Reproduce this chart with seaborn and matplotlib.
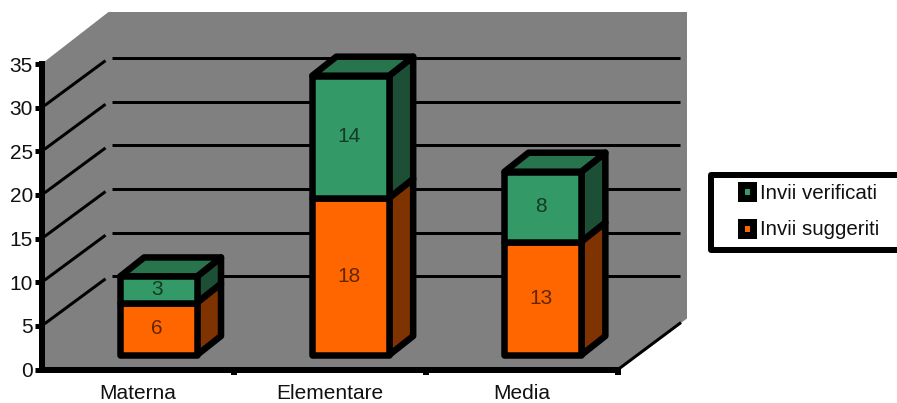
import matplotlib
matplotlib.use("Agg")
import matplotlib.pyplot as plt
import seaborn as sns
from matplotlib.lines import Line2D
from matplotlib.patches import Patch, Polygon, Rectangle
from matplotlib.transforms import Affine2D, IdentityTransform

categories = ["Materna", "Elementare", "Media"]
suggested = [6, 18, 13]
verified = [3, 14, 8]
series_names = ["Invii verificati", "Invii suggeriti"]
y_ticks = [0, 5, 10, 15, 20, 25, 30, 35]

WIDTH, HEIGHT = 897, 403
PX = 72 / 100  # points per pixel at the saved resolution

ORANGE, ORANGE_SIDE = "#FF6600", "#7F3300"
GREEN, GREEN_SIDE, GREEN_TOP = "#339966", "#1D4F36", "#27744D"
WALL = "#808080"
EDGE = 6.5 * PX

sns.set_theme(style="white")
plt.rcParams["font.family"] = ["Liberation Sans", "DejaVu Sans"]
plt.rcParams["text.color"] = "#111111"

fig = plt.figure(figsize=(WIDTH / 100, HEIGHT / 100), dpi=100)
ax = fig.add_axes([41.5 / WIDTH, (HEIGHT - 369.5) / HEIGHT, 576.5 / WIDTH, 305.5 / HEIGHT])
ax.patch.set_visible(False)

# Front-face bars: stacked through seaborn, then pushed into the box by a display offset.
bar_style = dict(color=ORANGE, saturation=1, width=0.4, edgecolor="black",
                 linewidth=EDGE, zorder=6, ax=ax)
sns.barplot(x=categories, y=suggested, **bar_style)
bar_style["color"] = GREEN
sns.barplot(x=categories, y=verified, bottom=suggested, **bar_style)
ax.set_xlim(-0.5, 2.5)
ax.set_ylim(0, 35)
ax.set_xlabel("")
ax.set_ylabel("")

BAR_DX, BAR_DY = 21, 14.5
DEPTH_DX, DEPTH_DY = 24, 19
bar_shift = ax.transData + Affine2D().translate(BAR_DX, BAR_DY)
label_shift = ax.transData + Affine2D().translate(BAR_DX - 1.5, BAR_DY)
identity = IdentityTransform()


def disp(x, y):
    return ax.transData.transform((x, y))


def img(x, y):
    """Pixel position measured from the top-left corner, in display coordinates."""
    return (x, HEIGHT - y)


# Box walls and floor, as one grey silhouette.
x0, y0 = disp(-0.5, 0)
x1, y1 = disp(2.5, 35)
wall = [(x0, y0), (x0, y1), (x0 + 67, y1 + 52), (x1 + 69, y1 + 52), (x1 + 69, y0 + 51), (x1, y0)]
ax.add_patch(Polygon(wall, closed=True, facecolor=WALL, edgecolor="none",
                     transform=identity, clip_on=False, zorder=0))

# Gridlines on the back wall with their diagonals on the side wall.
grid_kw = dict(color="black", lw=3 * PX, transform=identity, clip_on=False,
               zorder=1, solid_capstyle="butt")
for value in y_ticks[1:-1]:
    _, yv = disp(-0.5, value)
    ax.add_line(Line2D([x0 + 70, x1 + 62], [yv + 49.5] * 2, **grid_kw))
    ax.add_line(Line2D([x0 + 3, x0 + 64], [yv + 2, yv + 47], **grid_kw))
ax.add_line(Line2D([x1, x1 + 63], [y0, y0 + 47], **grid_kw))

# Right and top faces for every stacked segment.
face_kw = dict(closed=True, edgecolor="black", linewidth=EDGE, joinstyle="round",
               transform=identity, clip_on=False, zorder=5)
for i in range(len(categories)):
    stack = [(0, suggested[i], ORANGE_SIDE), (suggested[i], suggested[i] + verified[i], GREEN_SIDE)]
    right = i + 0.2
    left = i - 0.2
    for low, high, shade in stack:
        xr, yl = disp(right, low)
        _, yh = disp(right, high)
        xr += BAR_DX
        yl += BAR_DY
        yh += BAR_DY
        ax.add_patch(Polygon([(xr, yl), (xr + DEPTH_DX, yl + DEPTH_DY),
                              (xr + DEPTH_DX, yh + DEPTH_DY), (xr, yh)],
                             facecolor=shade, **face_kw))
    xl, yt = disp(left, suggested[i] + verified[i])
    xr, _ = disp(right, 0)
    xl += BAR_DX
    xr += BAR_DX
    yt += BAR_DY
    ax.add_patch(Polygon([(xl, yt), (xl + DEPTH_DX, yt + DEPTH_DY),
                          (xr + DEPTH_DX, yt + DEPTH_DY), (xr, yt)],
                         facecolor=GREEN_TOP, **face_kw))

for container in ax.containers:
    for bar in container:
        bar.set_transform(bar_shift)
        bar.set_joinstyle("round")
        bar.set_clip_on(False)

# Value labels in the middle of each front face.
label_kw = dict(ha="center", va="center", fontsize=15, color="black", alpha=0.62,
                transform=label_shift, zorder=7, clip_on=False)
for i in range(len(categories)):
    ax.text(i, suggested[i] / 2, str(suggested[i]), **label_kw)
    ax.text(i, suggested[i] + verified[i] / 2, str(verified[i]), **label_kw)

# Axes: heavy spines, short ticks.
sns.despine(ax=ax, top=True, right=True)
for side in ("left", "bottom"):
    ax.spines[side].set_color("black")
    ax.spines[side].set_linewidth(6 * PX)
    ax.spines[side].set_zorder(3)
    ax.spines[side].set_capstyle("projecting")
ax.set_yticks(y_ticks)
ax.set_xticks(range(len(categories)))
ax.set_xticklabels(categories)
ax.set_xticks([0.5, 1.5, 2.5], minor=True)
ax.tick_params(axis="y", which="major", left=True, length=6 * PX * 1.2, width=5 * PX,
               color="black", labelsize=15, pad=1, labelcolor="#111111")
ax.tick_params(axis="x", which="major", bottom=False, length=0, labelsize=15, pad=10.5,
               labelcolor="#111111")
ax.tick_params(axis="x", which="minor", bottom=True, length=5 * PX, width=6 * PX, color="black")

# Legend frame runs off the right edge of the figure.
lx, ly = img(711, 250)
ax.add_patch(Rectangle((lx, ly), 200, 75, facecolor="white", edgecolor="black",
                       linewidth=6 * PX, transform=identity, clip_on=False, zorder=4,
                       joinstyle="round"))
handles = [Patch(facecolor=GREEN, edgecolor="black", linewidth=7 * PX, joinstyle="round"),
           Patch(facecolor=ORANGE, edgecolor="black", linewidth=7 * PX, joinstyle="round")]
legend = fig.legend(handles, series_names, frameon=False, fontsize=14.8, loc="upper left",
                    bbox_to_anchor=img(741, 184), bbox_transform=identity, borderpad=0,
                    borderaxespad=0, handlelength=0.58, handleheight=0.58, handletextpad=0.32,
                    labelspacing=0.85)
legend.set_zorder(8)

fig.savefig("out.png", dpi=100)
